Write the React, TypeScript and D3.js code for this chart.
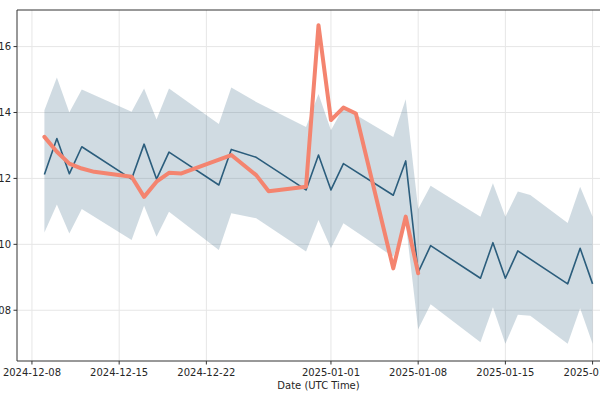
import React from "react";
import * as d3 from "d3";

const meanDates = ["2024-12-09","2024-12-10","2024-12-11","2024-12-12","2024-12-16","2024-12-17","2024-12-18","2024-12-19","2024-12-23","2024-12-24","2024-12-26","2024-12-30","2024-12-31","2025-01-01","2025-01-02","2025-01-06","2025-01-07","2025-01-08","2025-01-09","2025-01-13","2025-01-14","2025-01-15","2025-01-16","2025-01-20","2025-01-21","2025-01-22"];
const meanValues = [0.1212,0.1321,0.1214,0.1296,0.1198,0.1304,0.1198,0.1280,0.1180,0.1288,0.1264,0.1165,0.1271,0.1165,0.1245,0.1149,0.1253,0.0915,0.0996,0.0897,0.1005,0.0897,0.0980,0.0880,0.0988,0.0880];

const bandDates = ["2024-12-09","2024-12-10","2024-12-11","2024-12-12","2024-12-16","2024-12-17","2024-12-18","2024-12-19","2024-12-23","2024-12-24","2024-12-26","2024-12-30","2024-12-31","2025-01-01","2025-01-02","2025-01-06","2025-01-07","2025-01-08","2025-01-09","2025-01-13","2025-01-14","2025-01-15","2025-01-16","2025-01-17","2025-01-20","2025-01-21","2025-01-22"];
const upperValues = [0.1407,0.1506,0.1400,0.1470,0.1402,0.1473,0.1379,0.1473,0.1365,0.1476,0.1432,0.1356,0.1456,0.1346,0.1415,0.1326,0.1440,0.1107,0.1178,0.1084,0.1185,0.1084,0.1160,0.1150,0.1065,0.1175,0.1084];
const lowerValues = [0.1036,0.1121,0.1033,0.1107,0.1013,0.1117,0.1023,0.1099,0.0983,0.1094,0.1079,0.0978,0.1074,0.0988,0.1064,0.0962,0.1066,0.0742,0.0818,0.0703,0.0809,0.0698,0.0786,0.0783,0.0698,0.0806,0.0698];

const actualDates = ["2024-12-09","2024-12-10","2024-12-11","2024-12-12","2024-12-13","2024-12-16","2024-12-17","2024-12-18","2024-12-19","2024-12-20","2024-12-24","2024-12-26","2024-12-27","2024-12-30","2024-12-31","2025-01-01","2025-01-02","2025-01-03","2025-01-06","2025-01-07","2025-01-08"];
const actualValues = [0.1326,0.1281,0.1245,0.1230,0.1220,0.1205,0.1144,0.1190,0.1217,0.1215,0.1271,0.1210,0.1161,0.1175,0.1665,0.1377,0.1415,0.1397,0.0927,0.1084,0.0912];

const xTickDates = ["2024-12-08","2024-12-15","2024-12-22","2025-01-01","2025-01-08","2025-01-15","2025-01-22"];
const yTickValues = [0.08, 0.10, 0.12, 0.14, 0.16];
const xLabel = "Date (UTC Time)";

const W = 600, H = 400;
const left = 17, right = 620, top = 10, bottom = 361;

export default function App() {
  const parse = (s: string) => new Date(s + "T00:00:00Z");
  const DAY = 86400000;
  const x0 = parse("2024-12-09").getTime() - 2.2 * DAY;
  const x1 = parse("2025-01-22").getTime() + 2.2 * DAY;
  const x = d3.scaleUtc().domain([new Date(x0), new Date(x1)]).range([left, right]);
  const y = d3.scaleLinear().domain([0.0646, 0.1711]).range([bottom, top]);

  const band = bandDates.map((d, i) => ({ d: parse(d), lo: lowerValues[i], hi: upperValues[i] }));
  const mean = meanDates.map((d, i) => ({ d: parse(d), v: meanValues[i] }));
  const actual = actualDates.map((d, i) => ({ d: parse(d), v: actualValues[i] }));

  const areaGen = d3.area<any>().x(p => x(p.d)).y0(p => y(p.lo)).y1(p => y(p.hi));
  const lineGen = d3.line<any>().x(p => x(p.d)).y(p => y(p.v));
  const fmt = d3.utcFormat("%Y-%m-%d");
  const fmtY = d3.format(".2f");
  const font = "DejaVu Sans, sans-serif";

  return (
    <svg width={W} height={H} style={{ position: "absolute", left: 0, top: 0, background: "#fff" }} fontFamily={font}>
      <defs>
        <clipPath id="plot"><rect x={left} y={top} width={right - left} height={bottom - top} /></clipPath>
      </defs>
      <rect x={0} y={0} width={W} height={H} fill="#fff" />
      {/* grid */}
      <g stroke="#e6e6e6" strokeWidth={1}>
        {xTickDates.map(t => (
          <line key={t} x1={x(parse(t))} x2={x(parse(t))} y1={top} y2={bottom} />
        ))}
        {yTickValues.map(t => (
          <line key={t} x1={left} x2={right} y1={y(t)} y2={y(t)} />
        ))}
      </g>
      <g clipPath="url(#plot)">
        <path d={areaGen(band) || ""} fill="#2b5d7c" fillOpacity={0.22} stroke="none" />
        <path d={lineGen(mean) || ""} fill="none" stroke="#2b5d7c" strokeWidth={1.6} strokeLinejoin="round" />
        <path d={lineGen(actual) || ""} fill="none" stroke="#f4846f" strokeWidth={4} strokeLinejoin="round" strokeLinecap="round" />
      </g>
      {/* spines */}
      <line x1={left} x2={left} y1={top} y2={bottom} stroke="#333" strokeWidth={1} />
      <line x1={left} x2={right} y1={bottom} y2={bottom} stroke="#333" strokeWidth={1} />
      <line x1={left} x2={right} y1={top} y2={top} stroke="#333" strokeWidth={1} />
      {/* x ticks */}
      <g fontSize={10} fill="#262626">
        {xTickDates.map(t => (
          <g key={t} transform={`translate(${x(parse(t))},${bottom})`}>
            <line y1={0} y2={3.5} stroke="#333" />
            <text y={15} textAnchor="middle">{fmt(parse(t))}</text>
          </g>
        ))}
        {yTickValues.map(t => (
          <g key={t} transform={`translate(${left},${y(t)})`}>
            <line x1={0} x2={-3.5} stroke="#333" />
            <text x={-6} dy="0.35em" textAnchor="end">{fmtY(t)}</text>
          </g>
        ))}
        <text x={(left + right) / 2} y={389} textAnchor="middle">{xLabel}</text>
      </g>
    </svg>
  );
}
